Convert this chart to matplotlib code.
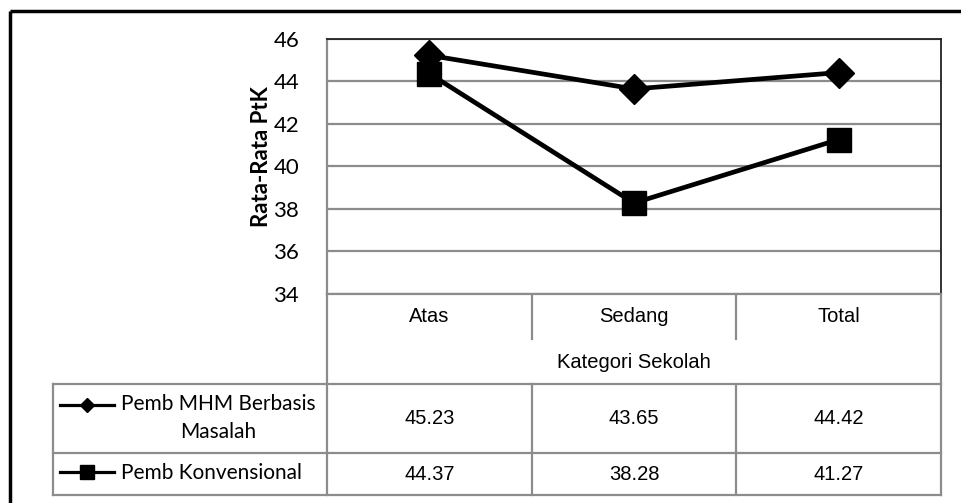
import numpy as np
import matplotlib
matplotlib.use("Agg")
import matplotlib.pyplot as plt
from matplotlib.transforms import blended_transform_factory

# ---- data ----
categories = ["Atas", "Sedang", "Total"]
series_names = ["Pemb MHM Berbasis\nMasalah", "Pemb Konvensional"]
mhm_values = [45.23, 43.65, 44.42]
konv_values = [44.37, 38.28, 41.27]
y_ticks = [34, 36, 38, 40, 42, 44, 46]
x_title = "Kategori Sekolah"
y_title = "Rata-Rata PtK"

W, H = 961, 503
fig = plt.figure(figsize=(W / 100, H / 100), dpi=100)
fig.patch.set_facecolor("white")

gray = "#8c8c8c"
narrow = ["Liberation Sans Narrow", "Liberation Sans", "DejaVu Sans"]
body = ["Lato", "DejaVu Sans"]

# overlay axes in pixel coordinates (for table frame/text)
ov = fig.add_axes([0, 0, 1, 1], zorder=0)
ov.set_xlim(0, W)
ov.set_ylim(H, 0)
ov.axis("off")

ax = fig.add_axes([327 / W, 1 - 294 / H, (941 - 327) / W, (294 - 39) / H], zorder=2)
ax.set_xlim(-0.5, len(categories) - 0.5)
ax.set_ylim(y_ticks[0], y_ticks[-1])
ax.set_yticks(y_ticks)
ax.set_yticklabels([str(t) for t in y_ticks], fontfamily=body, fontsize=16)
ax.set_xticks([])
ax.yaxis.grid(True, color=gray, lw=1.6)
ax.set_axisbelow(True)
ax.tick_params(axis="y", length=0, pad=20)
for s in ("left", "bottom"):
    ax.spines[s].set_color(gray)
    ax.spines[s].set_linewidth(1.6)
for s in ("top", "right"):
    ax.spines[s].set_color("#222222")
    ax.spines[s].set_linewidth(1.3)

x = np.arange(len(categories))
ax.plot(x, mhm_values, color="black", lw=3.4, marker="D", ms=15, zorder=3, clip_on=False)
ax.plot(x, konv_values, color="black", lw=3.4, marker="s", ms=17.5, zorder=3, clip_on=False)

fig.text(262 / W, 1 - 157 / H, y_title, rotation=90, ha="center", va="center",
         fontsize=16, fontweight="bold", fontfamily=body)

# blended transform: x from data axis, y in overlay pixel coords
bt = blended_transform_factory(ax.transData, ov.transData)

lw_t = 1.6
# table frame
ov.plot([327, 327], [294, 495], color=gray, lw=lw_t)
ov.plot([941, 941], [294, 495], color=gray, lw=lw_t)
ov.plot([53, 53], [384, 495], color=gray, lw=lw_t)
for yy in (384, 453, 495):
    ov.plot([53, 941], [yy, yy], color=gray, lw=lw_t)
for i in range(len(categories) - 1):
    ov.plot([i + 0.5, i + 0.5], [294, 339], color=gray, lw=lw_t, transform=bt)
    ov.plot([i + 0.5, i + 0.5], [384, 495], color=gray, lw=lw_t, transform=bt)

# outer border
ov.plot([9.5, 9.5], [10.5, H], color="black", lw=2.5, solid_capstyle="butt")
ov.plot([9.5, W], [10.5, 10.5], color="black", lw=2.5, solid_capstyle="butt")

# table text
fs_t = 14.5
for i, c in enumerate(categories):
    ov.text(i, 316, c, transform=bt, ha="center", va="center", fontsize=fs_t, fontfamily=narrow)
ov.text(0.5 * (327 + 941), 362, x_title, ha="center", va="center", fontsize=fs_t, fontfamily=narrow)
for i, v in enumerate(mhm_values):
    ov.text(i, 419, f"{v:.2f}", transform=bt, ha="center", va="center", fontsize=fs_t, fontfamily=narrow)
for i, v in enumerate(konv_values):
    ov.text(i, 474, f"{v:.2f}", transform=bt, ha="center", va="center", fontsize=fs_t, fontfamily=narrow)

# legend column
ov.plot([60, 114], [405, 405], color="black", lw=2.3)
ov.plot([87], [405], color="black", marker="D", ms=7.5)
ov.plot([60, 114], [472, 472], color="black", lw=2.3)
ov.plot([87], [472], color="black", marker="s", ms=10)
ov.text(121, 418, series_names[0], ha="left", va="center", multialignment="center",
        fontsize=15, fontfamily=body, linespacing=1.45)
ov.text(121, 473, series_names[1], ha="left", va="center", fontsize=15, fontfamily=body)

fig.savefig("out.png", dpi=100)
